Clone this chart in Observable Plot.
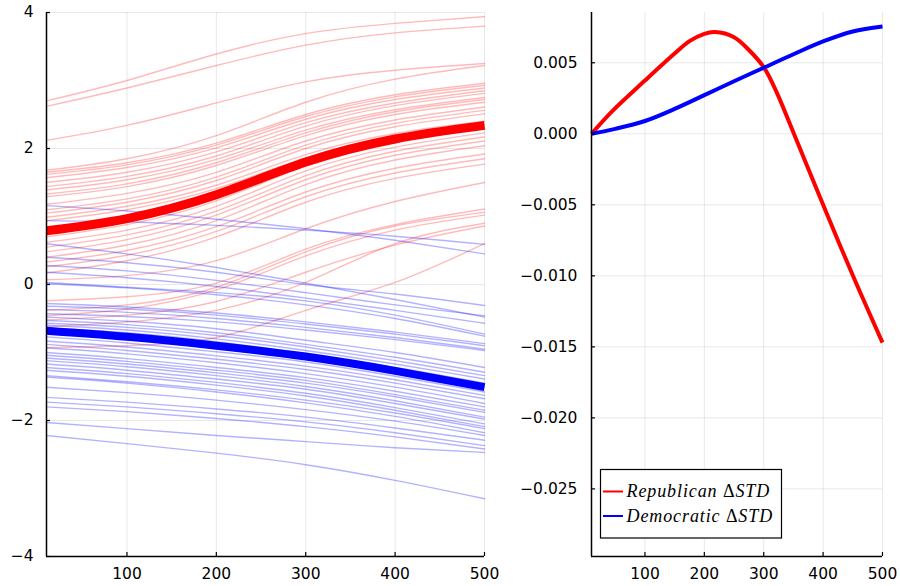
<!DOCTYPE html>
<html><head><meta charset="utf-8">
<script src="https://cdn.jsdelivr.net/npm/d3@7"></script>
<script src="https://cdn.jsdelivr.net/npm/@observablehq/plot@0.6"></script>
<style>
body{margin:0;background:#fff;}
#wrap{position:relative;width:900px;height:586px;display:flex;}
#wrap svg{overflow:visible;}
#legend{position:absolute;left:0;top:0;pointer-events:none;}
</style></head><body><div id="wrap"></div>
<script>
// ---------- data ----------
const xs = [10, 100, 200, 300, 400, 500];

const redLines = [
  [2.70, 3.00, 3.39, 3.69, 3.84, 3.94],
  [2.62, 2.89, 3.22, 3.52, 3.70, 3.80],
  [2.12, 2.34, 2.67, 2.98, 3.15, 3.25],
  [1.68, 1.85, 2.19, 2.68, 3.02, 3.22],
  [1.65, 1.79, 2.08, 2.50, 2.79, 2.96],
  [1.62, 1.76, 2.05, 2.47, 2.76, 2.93],
  [1.57, 1.72, 2.01, 2.43, 2.72, 2.89],
  [1.50, 1.65, 1.95, 2.38, 2.67, 2.85],
  [1.44, 1.59, 1.89, 2.33, 2.63, 2.81],
  [1.39, 1.54, 1.84, 2.27, 2.57, 2.75],
  [1.33, 1.48, 1.79, 2.23, 2.54, 2.72],
  [1.29, 1.44, 1.75, 2.19, 2.50, 2.68],
  [1.18, 1.34, 1.65, 2.11, 2.42, 2.61],
  [1.10, 1.26, 1.58, 2.05, 2.37, 2.56],
  [1.05, 1.21, 1.53, 2.00, 2.32, 2.51],
  [0.99, 1.15, 1.46, 1.91, 2.22, 2.40],
  [0.94, 1.10, 1.41, 1.86, 2.18, 2.36],
  [0.70, 0.88, 1.23, 1.74, 2.09, 2.30],
  [0.62, 0.80, 1.15, 1.67, 2.02, 2.23],
  [0.55, 0.73, 1.08, 1.60, 1.96, 2.17],
  [0.48, 0.66, 1.02, 1.54, 1.90, 2.11],
  [0.40, 0.58, 0.94, 1.47, 1.83, 2.04],
  [0.33, 0.50, 0.85, 1.36, 1.71, 1.92],
  [0.26, 0.43, 0.78, 1.29, 1.64, 1.85],
  [0.17, 0.35, 0.70, 1.21, 1.56, 1.77],
  [0.07, 0.13, 0.35, 0.82, 1.22, 1.50],
  [-0.24, -0.18, 0.02, 0.52, 0.88, 1.11],
  [-0.38, -0.30, -0.04, 0.48, 0.86, 1.06],
  [-0.46, -0.36, -0.08, 0.42, 0.80, 1.02],
  [-0.52, -0.45, -0.25, 0.18, 0.58, 0.86],
  [-0.62, -0.55, -0.38, 0.03, 0.60, 0.90],
  [-0.93, -0.90, -0.78, -0.38, 0.03, 0.60]
];

const blueLines = [
  [1.16, 1.08, 0.96, 0.82, 0.65, 0.45],
  [0.94, 0.92, 0.87, 0.80, 0.71, 0.59],
  [0.60, 0.45, 0.25, 0.02, -0.22, -0.48],
  [0.40, 0.32, 0.18, 0.00, -0.14, -0.31],
  [0.28, 0.20, 0.06, -0.12, -0.30, -0.46],
  [0.18, 0.10, -0.03, -0.20, -0.38, -0.57],
  [0.03, -0.04, -0.12, -0.24, -0.45, -0.73],
  [0.01, -0.05, -0.15, -0.30, -0.50, -0.76],
  [-0.28, -0.33, -0.42, -0.55, -0.70, -0.87],
  [-0.32, -0.36, -0.45, -0.58, -0.73, -0.90],
  [-0.37, -0.41, -0.50, -0.63, -0.78, -0.95],
  [-0.43, -0.47, -0.55, -0.67, -0.81, -0.97],
  [-0.48, -0.54, -0.65, -0.82, -1.00, -1.22],
  [-0.53, -0.59, -0.71, -0.88, -1.07, -1.29],
  [-0.57, -0.63, -0.75, -0.92, -1.12, -1.34],
  [-0.60, -0.67, -0.80, -0.97, -1.17, -1.39],
  [-0.64, -0.71, -0.84, -1.02, -1.22, -1.45],
  [-0.77, -0.86, -0.99, -1.14, -1.35, -1.58],
  [-0.83, -0.92, -1.05, -1.20, -1.40, -1.63],
  [-0.88, -0.97, -1.10, -1.25, -1.45, -1.68],
  [-0.93, -1.02, -1.15, -1.31, -1.51, -1.75],
  [-1.00, -1.09, -1.22, -1.37, -1.57, -1.80],
  [-1.04, -1.13, -1.26, -1.41, -1.62, -1.85],
  [-1.08, -1.17, -1.30, -1.45, -1.65, -1.88],
  [-1.12, -1.21, -1.34, -1.50, -1.71, -1.95],
  [-1.17, -1.26, -1.39, -1.54, -1.75, -1.98],
  [-1.22, -1.31, -1.44, -1.60, -1.81, -2.05],
  [-1.26, -1.35, -1.48, -1.64, -1.85, -2.09],
  [-1.34, -1.43, -1.55, -1.70, -1.89, -2.12],
  [-1.36, -1.45, -1.58, -1.74, -1.94, -2.18],
  [-1.51, -1.59, -1.70, -1.84, -2.01, -2.22],
  [-1.66, -1.73, -1.83, -1.95, -2.11, -2.29],
  [-1.73, -1.80, -1.90, -2.02, -2.18, -2.37],
  [-1.80, -1.87, -1.97, -2.09, -2.24, -2.42],
  [-2.03, -2.12, -2.22, -2.31, -2.40, -2.47],
  [-2.22, -2.34, -2.48, -2.65, -2.88, -3.15]
];

const redMean  = [0.79, 0.97, 1.32, 1.80, 2.14, 2.34];
const blueMean = [-0.68, -0.77, -0.90, -1.06, -1.27, -1.51];

// right panel
const xsRep = [10, 45, 100, 150, 175, 200, 218, 250, 275, 300, 322, 345, 400, 435, 467, 500];
const repDelta = [0, 0.0016, 0.00375, 0.00565, 0.00652, 0.00704, 0.00716, 0.0068, 0.0059, 0.00469, 0.0029, 0.0006, -0.0050, -0.0085, -0.0116, -0.0147];
const xsDem = [10, 50, 100, 150, 200, 250, 300, 350, 400, 450, 500];
const demDelta = [0, 0.00035, 0.0009, 0.00175, 0.00272, 0.0037, 0.00465, 0.0056, 0.0065, 0.0072, 0.00755];

const xTicks = [100, 200, 300, 400, 500];
const yTicksL = [-4, -2, 0, 2, 4];
const yTicksR = [0.005, 0, -0.005, -0.010, -0.015, -0.020, -0.025];
const legendLabels = ["Republican \u0394STD", "Democratic \u0394STD"];

// ---------- build ----------
const toRows = (lines, prefix) => lines.flatMap((ys, i) => ys.map((y, j) => ({id: prefix + i, x: xs[j], y})));
const redRows = toRows(redLines, "r");
const blueRows = toRows(blueLines, "b");
const meanR = redMean.map((y, j) => ({x: xs[j], y}));
const meanB = blueMean.map((y, j) => ({x: xs[j], y}));
const repRows = repDelta.map((y, j) => ({x: xsRep[j], y}));
const demRows = demDelta.map((y, j) => ({x: xsDem[j], y}));

const H = 586, MT = 12, MB = 30;
const frameH = H - MT - MB;
const font = {fontFamily: "DejaVu Sans", fontSize: "15.5px", background: "transparent", color: "black", overflow: "visible"};
const grid = {stroke: "#000", strokeOpacity: 0.09, strokeWidth: 1};

const WL = 500, MLL = 46, MRL = 16;
const xDomL = [10, 500], yDomL = [-4, 4];
const left = Plot.plot({
  width: WL, height: H, marginLeft: MLL, marginRight: MRL, marginTop: MT, marginBottom: MB,
  style: font,
  x: {domain: xDomL, label: null},
  y: {domain: yDomL, label: null},
  marks: [
    Plot.gridX(xTicks, grid),
    Plot.gridY(yTicksL, grid),
    Plot.line(redRows, {x: "x", y: "y", z: "id", stroke: "red", strokeOpacity: 0.27, strokeWidth: 1.4, curve: "natural"}),
    Plot.line(blueRows, {x: "x", y: "y", z: "id", stroke: "blue", strokeOpacity: 0.3, strokeWidth: 1.4, curve: "natural"}),
    Plot.line(meanR, {x: "x", y: "y", stroke: "red", strokeWidth: 9, strokeLinecap: "butt", curve: "natural"}),
    Plot.line(meanB, {x: "x", y: "y", stroke: "blue", strokeWidth: 8, strokeLinecap: "butt", curve: "natural"}),
    Plot.ruleX([xDomL[0]], {stroke: "#000", strokeWidth: 1.5}),
    Plot.ruleY([yDomL[0]], {stroke: "#000", strokeWidth: 1.5}),
    Plot.ruleX(xTicks, {stroke: "#000", strokeWidth: 1.2, insetTop: frameH - 4}),
    Plot.ruleY(yTicksL, {stroke: "#000", strokeWidth: 1.2, insetRight: WL - MLL - MRL - 4}),
    Plot.axisX(xTicks, {tickSize: 0, tickPadding: 11, label: null}),
    Plot.axisY(yTicksL, {tickSize: 0, tickPadding: 13, label: null, tickFormat: d3.format("d")})
  ]
});

const WR = 400, MLR = 91, MRR = 18;
const xDomR = [10, 500], yDomR = [-0.02976, 0.00854];
const right = Plot.plot({
  width: WR, height: H, marginLeft: MLR, marginRight: MRR, marginTop: MT, marginBottom: MB,
  style: font,
  x: {domain: xDomR, label: null},
  y: {domain: yDomR, label: null},
  marks: [
    Plot.gridX(xTicks, grid),
    Plot.gridY(yTicksR, grid),
    Plot.line(repRows, {x: "x", y: "y", stroke: "red", strokeWidth: 4, strokeLinecap: "butt", curve: "catmull-rom"}),
    Plot.line(demRows, {x: "x", y: "y", stroke: "blue", strokeWidth: 4, strokeLinecap: "butt", curve: "catmull-rom"}),
    Plot.ruleX([xDomR[0]], {stroke: "#000", strokeWidth: 1.5}),
    Plot.ruleY([yDomR[0]], {stroke: "#000", strokeWidth: 1.5}),
    Plot.ruleX(xTicks, {stroke: "#000", strokeWidth: 1.2, insetTop: frameH - 4}),
    Plot.ruleY(yTicksR, {stroke: "#000", strokeWidth: 1.2, insetRight: WR - MLR - MRR - 4}),
    Plot.axisX(xTicks, {tickSize: 0, tickPadding: 11, label: null}),
    Plot.axisY(yTicksR, {tickSize: 0, tickPadding: 14, label: null, tickFormat: d3.format(".3f")})
  ]
});

const wrap = document.getElementById("wrap");
wrap.appendChild(left);
wrap.appendChild(right);

// legend
const NS = "http://www.w3.org/2000/svg";
const lg = document.createElementNS(NS, "svg");
lg.setAttribute("id", "legend");
lg.setAttribute("width", 900); lg.setAttribute("height", 586);
const mk = (tag, attrs) => { const e = document.createElementNS(NS, tag); for (const k in attrs) e.setAttribute(k, attrs[k]); lg.appendChild(e); return e; };
mk("rect", {x: 600.5, y: 469.5, width: 181, height: 68.5, fill: "white", stroke: "black", "stroke-width": 1.2});
const colors = ["red", "blue"];
legendLabels.forEach((lab, i) => {
  const cy = 491.5 + i * 24.5;
  mk("line", {x1: 603, x2: 623, y1: cy, y2: cy, stroke: colors[i], "stroke-width": 2});
  const t = mk("text", {x: 626.5, y: cy + 5.5, "font-family": "Liberation Serif", "font-style": "italic", "font-size": 18, "letter-spacing": 0.9, fill: "black"});
  const [w1, w2] = lab.split("\u0394");
  const s1 = document.createElementNS(NS, "tspan"); s1.textContent = w1; t.appendChild(s1);
  const s2 = document.createElementNS(NS, "tspan"); s2.setAttribute("font-style", "normal"); s2.textContent = "\u0394"; t.appendChild(s2);
  const s3 = document.createElementNS(NS, "tspan"); s3.textContent = w2; t.appendChild(s3);
});
wrap.appendChild(lg);
</script></body></html>
